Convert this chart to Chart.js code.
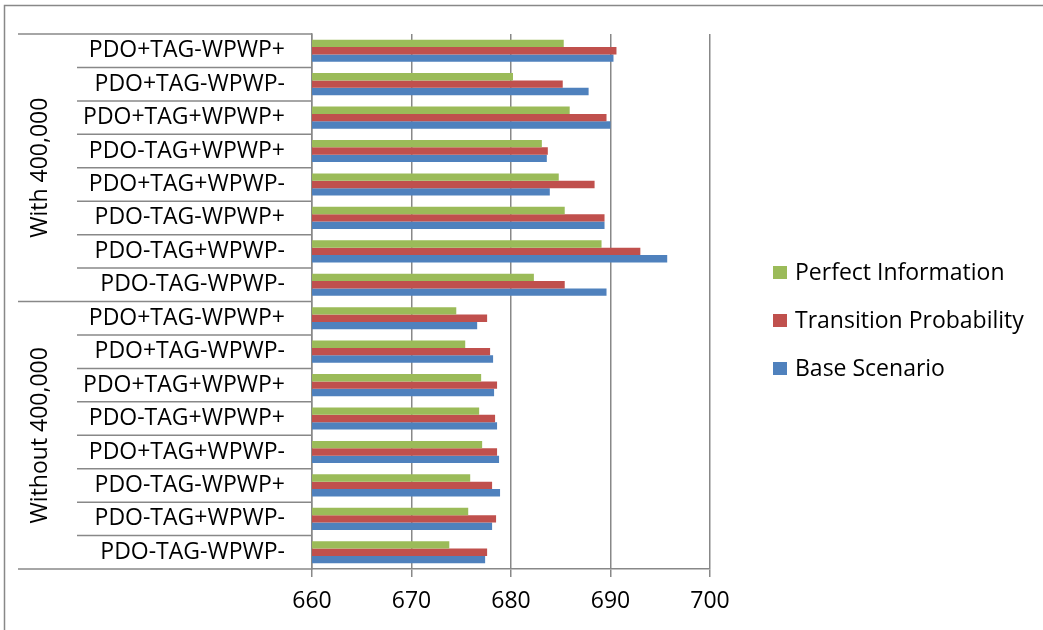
<!DOCTYPE html>
<html>
<head>
<meta charset="utf-8">
<script src="https://cdn.jsdelivr.net/npm/chart.js@4/dist/chart.umd.min.js"></script>
<style>
html,body{margin:0;padding:0;background:#fff;}
#wrap{width:1043px;height:630px;}
</style>
</head>
<body>
<div id="wrap"><canvas id="c" width="1043" height="630"></canvas></div>
<script>
const categories = [
  'PDO+TAG-WPWP+','PDO+TAG-WPWP-','PDO+TAG+WPWP+','PDO-TAG+WPWP+',
  'PDO+TAG+WPWP-','PDO-TAG-WPWP+','PDO-TAG+WPWP-','PDO-TAG-WPWP-',
  'PDO+TAG-WPWP+','PDO+TAG-WPWP-','PDO+TAG+WPWP+','PDO-TAG+WPWP+',
  'PDO+TAG+WPWP-','PDO-TAG-WPWP+','PDO-TAG+WPWP-','PDO-TAG-WPWP-'
];
const groups = ['With 400,000', 'Without 400,000'];
const groupSize = 8;
const seriesNames = ['Perfect Information', 'Transition Probability', 'Base Scenario'];
const perfectInformation = [685.3, 680.2, 685.9, 683.1, 684.8, 685.4, 689.1, 682.3,
                            674.5, 675.4, 677.0, 676.8, 677.1, 675.9, 675.7, 673.8];
const transitionProbability = [690.6, 685.2, 689.6, 683.7, 688.4, 689.4, 693.0, 685.4,
                               677.6, 677.9, 678.6, 678.4, 678.6, 678.1, 678.5, 677.6];
const baseScenario = [690.3, 687.8, 690.0, 683.6, 683.9, 689.4, 695.7, 689.6,
                      676.6, 678.2, 678.3, 678.6, 678.8, 678.9, 678.1, 677.4];
const xTicks = [660, 670, 680, 690, 700];
const colors = ['#9BBB59', '#C0504D', '#4F81BD'];

const FONT = '"Open Sans", Lato, sans-serif';
const FSIZE = 23;
const LINE = '#888888';

const decor = {
  id: 'decor',
  afterDraw(chart) {
    const ctx = chart.ctx;
    const y = chart.scales.y;
    const area = chart.chartArea;
    const n = categories.length;
    const step = (area.bottom - area.top) / n;
    ctx.save();
    // outer border (top and left)
    ctx.strokeStyle = LINE;
    ctx.lineWidth = 1.5;
    ctx.beginPath();
    ctx.moveTo(4.5, 630); ctx.lineTo(4.5, 5.5); ctx.lineTo(1043, 5.5);
    ctx.stroke();
    // category separators
    for (let i = 0; i <= n; i++) {
      const yy = y.getPixelForValue(i) - step / 2;
      const isGroup = (i % groupSize === 0);
      ctx.beginPath();
      ctx.moveTo(isGroup ? 18 : 77, yy);
      ctx.lineTo(area.left, yy);
      ctx.stroke();
    }
    // group labels
    ctx.fillStyle = '#000';
    ctx.font = FSIZE + 'px ' + FONT;
    ctx.textAlign = 'center';
    ctx.textBaseline = 'middle';
    groups.forEach((g, gi) => {
      const y0 = y.getPixelForValue(gi * groupSize) - step / 2;
      const y1 = y.getPixelForValue(gi * groupSize + groupSize - 1) + step / 2;
      ctx.save();
      ctx.translate(40, (y0 + y1) / 2);
      ctx.rotate(-Math.PI / 2);
      ctx.fillText(g, 0, 0);
      ctx.restore();
    });
    // legend
    ctx.textAlign = 'left';
    const ly = [273, 321, 369];
    seriesNames.forEach((s, i) => {
      ctx.fillStyle = colors[i];
      ctx.fillRect(773, ly[i] - 7, 14, 13);
      ctx.fillStyle = '#000';
      ctx.fillText(s, 795, ly[i]);
    });
    ctx.restore();
  }
};

new Chart(document.getElementById('c'), {
  type: 'bar',
  data: {
    labels: categories,
    datasets: [
      { label: seriesNames[0], data: perfectInformation, backgroundColor: colors[0] },
      { label: seriesNames[1], data: transitionProbability, backgroundColor: colors[1] },
      { label: seriesNames[2], data: baseScenario, backgroundColor: colors[2] }
    ]
  },
  options: {
    indexAxis: 'y',
    responsive: false,
    animation: false,
    devicePixelRatio: 1,
    layout: { padding: { left: 0, top: 34, right: 333, bottom: 0 } },
    datasets: { bar: { barPercentage: 1.0, categoryPercentage: 0.66, borderWidth: 0 } },
    plugins: { legend: { display: false }, tooltip: { enabled: false } },
    scales: {
      x: {
        min: 660, max: 700,
        afterBuildTicks(scale) { scale.ticks = xTicks.map(v => ({ value: v })); },
        afterFit(scale) { scale.height = 61; },
        ticks: { color: '#000', font: { size: FSIZE, family: FONT }, padding: 11 },
        grid: { color: LINE, lineWidth: 1.5, tickLength: 8 },
        border: { display: true, color: LINE, width: 1.5 }
      },
      y: {
        afterFit(scale) { scale.width = 312; },
        ticks: { color: '#000', font: { size: FSIZE, family: FONT }, padding: 19, autoSkip: false },
        grid: { display: false },
        border: { display: true, color: LINE, width: 1.5 }
      }
    }
  },
  plugins: [decor]
});
</script>
</body>
</html>
